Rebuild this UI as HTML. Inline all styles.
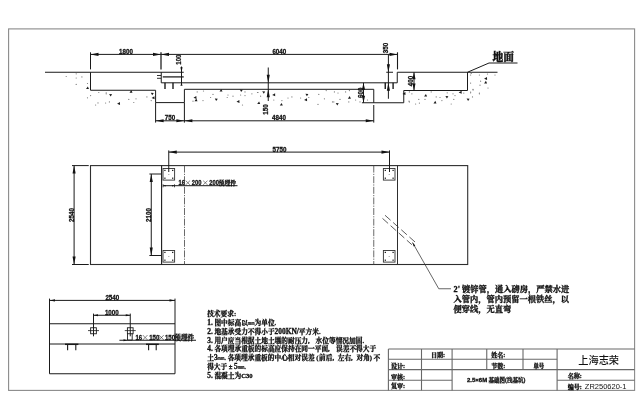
<!DOCTYPE html>
<html lang="zh"><head><meta charset="utf-8"><title>2.5×6M 基础图(浅基坑)</title>
<style>
html,body{margin:0;padding:0;background:#fff;}
body{width:640px;height:401px;overflow:hidden;}
svg{display:block;filter:grayscale(1);}
text{fill:#111;}
.n{font-family:"Liberation Sans","Noto Sans CJK SC",sans-serif;font-weight:700;stroke:#111;stroke-width:0.3px;}
.c{font-family:"Liberation Serif","Noto Serif CJK SC",serif;font-weight:700;stroke:#111;stroke-width:0.32px;}
.lt{font-size:7.4px;}
.mm{font-family:"Liberation Mono",monospace;font-size:5.6px;stroke-width:0.15px;}
.x{font-family:"Noto Sans CJK SC",sans-serif;font-weight:300;}
.h{font-family:"Liberation Sans","Noto Sans CJK SC",sans-serif;font-weight:500;}
.m{font-family:"Liberation Sans","Noto Sans CJK SC",sans-serif;font-weight:400;}
.n2{font-family:"Liberation Sans","Noto Sans CJK SC",sans-serif;font-size:6.0px;}
.t{stroke-width:0.32px;}
</style></head><body>
<svg width="640" height="401" viewBox="0 0 640 401">
<rect width="640" height="401" fill="#fff"/>
<rect x="8.6" y="28.9" width="626.0" height="361.5" fill="none" stroke="#8a8a8a" stroke-width="1.1"/>
<line x1="45" y1="72.25" x2="183.75" y2="72.25" stroke="#1a1a1a" stroke-width="1.0" />
<polyline points="90.5,72.25 90.5,90.25 155.6,90.25 155.6,102.6 184.4,102.6 184.4,89.3 373.75,89.3 373.75,102.75" fill="none" stroke="#1a1a1a" stroke-width="1.0" />
<polyline points="361.9,102.75 403.75,102.75 403.75,90.5 467.5,90.5 467.5,72.25" fill="none" stroke="#1a1a1a" stroke-width="1.0" />
<line x1="397.25" y1="72.25" x2="497.5" y2="72.25" stroke="#1a1a1a" stroke-width="1.0" />
<polyline points="161.25,72.25 161.25,82.8 397.25,82.8 397.25,72.25" fill="none" stroke="#1a1a1a" stroke-width="1.0" />
<line x1="162.75" y1="76.9" x2="183.75" y2="76.9" stroke="#1a1a1a" stroke-width="1.25" />
<line x1="157" y1="75.5" x2="161" y2="75.5" stroke="#1a1a1a" stroke-width="0.9" />
<line x1="157" y1="78.3" x2="161" y2="78.3" stroke="#1a1a1a" stroke-width="0.9" />
<line x1="165" y1="82.8" x2="165" y2="89" stroke="#1a1a1a" stroke-width="1.4" />
<line x1="173" y1="82.8" x2="173" y2="89" stroke="#1a1a1a" stroke-width="1.4" />
<line x1="385.25" y1="82.8" x2="385.25" y2="89" stroke="#1a1a1a" stroke-width="1.4" />
<line x1="393.1" y1="82.8" x2="393.1" y2="89" stroke="#1a1a1a" stroke-width="1.4" />
<line x1="90.5" y1="54.4" x2="397.5" y2="54.4" stroke="#1a1a1a" stroke-width="1.0" />
<line x1="90.5" y1="52.3" x2="90.5" y2="69.4" stroke="#1a1a1a" stroke-width="1.0" />
<line x1="161" y1="52.3" x2="161" y2="69.4" stroke="#1a1a1a" stroke-width="1.25" />
<line x1="397.5" y1="52.3" x2="397.5" y2="69.4" stroke="#1a1a1a" stroke-width="1.1" />
<polygon points="90.5,54.4 98.50,55.95 98.50,52.85" fill="#111"/>
<polygon points="161,54.4 153.00,52.85 153.00,55.95" fill="#111"/>
<polygon points="161,54.4 169.00,55.95 169.00,52.85" fill="#111"/>
<polygon points="397.5,54.4 389.50,52.85 389.50,55.95" fill="#111"/>
<text transform="translate(126 54.4) scale(0.83 1)" font-size="7.5" text-anchor="middle" class="n" >1800</text>
<text transform="translate(279.3 54.4) scale(0.83 1)" font-size="7.5" text-anchor="middle" class="n" >6040</text>
<line x1="181.5" y1="66.5" x2="181.5" y2="84.6" stroke="#1a1a1a" stroke-width="1.0" />
<polygon points="181.5,72.25 182.60,67.25 180.40,67.25" fill="#111"/>
<polygon points="181.5,82.8 180.40,85.80 182.60,85.80" fill="#111"/>
<text transform="translate(181.0 59.7) rotate(-90) scale(0.83 1)" font-size="7.2" text-anchor="middle" class="n" >100</text>
<line x1="268.25" y1="67.5" x2="268.25" y2="101" stroke="#1a1a1a" stroke-width="1.0" />
<polygon points="268.25,82.8 269.80,74.80 266.70,74.80" fill="#111"/>
<polygon points="268.25,89.3 266.70,97.30 269.80,97.30" fill="#111"/>
<text transform="translate(268.0 109.5) rotate(-90) scale(0.83 1)" font-size="7.5" text-anchor="middle" class="n" >150</text>
<line x1="388.4" y1="54.4" x2="388.4" y2="98.75" stroke="#1a1a1a" stroke-width="1.0" />
<line x1="386.25" y1="72.25" x2="393" y2="72.25" stroke="#1a1a1a" stroke-width="1.0" />
<polygon points="388.4,72.25 389.95,64.25 386.85,64.25" fill="#111"/>
<polygon points="388.4,82.8 386.85,90.80 389.95,90.80" fill="#111"/>
<text transform="translate(388.2 48) rotate(-90) scale(0.83 1)" font-size="7.5" text-anchor="middle" class="n" >350</text>
<line x1="363.5" y1="82.8" x2="363.5" y2="102.75" stroke="#1a1a1a" stroke-width="1.0" />
<polygon points="363.5,82.8 361.95,89.80 365.05,89.80" fill="#111"/>
<polygon points="363.5,102.75 365.05,95.75 361.95,95.75" fill="#111"/>
<text transform="translate(362.5 92.7) rotate(-90) scale(0.83 1)" font-size="7.5" text-anchor="middle" class="n" >600</text>
<line x1="414" y1="72.25" x2="414" y2="90.5" stroke="#1a1a1a" stroke-width="1.0" />
<polygon points="414,72.25 412.45,79.25 415.55,79.25" fill="#111"/>
<polygon points="414,90.5 415.55,83.50 412.45,83.50" fill="#111"/>
<text transform="translate(413.0 81) rotate(-90) scale(0.83 1)" font-size="7.5" text-anchor="middle" class="n" >400</text>
<line x1="155.6" y1="120.8" x2="373.75" y2="120.8" stroke="#1a1a1a" stroke-width="1.0" />
<line x1="155.6" y1="102.6" x2="155.6" y2="122.6" stroke="#1a1a1a" stroke-width="1.0" />
<line x1="184.4" y1="102.6" x2="184.4" y2="122.6" stroke="#1a1a1a" stroke-width="1.0" />
<line x1="373.75" y1="105" x2="373.75" y2="122.6" stroke="#1a1a1a" stroke-width="1.0" />
<polygon points="155.6,120.8 163.60,122.35 163.60,119.25" fill="#111"/>
<polygon points="184.4,120.8 176.40,119.25 176.40,122.35" fill="#111"/>
<polygon points="184.4,120.8 192.40,122.35 192.40,119.25" fill="#111"/>
<polygon points="373.75,120.8 365.75,119.25 365.75,122.35" fill="#111"/>
<text transform="translate(170 120.4) scale(0.83 1)" font-size="7.5" text-anchor="middle" class="n" >750</text>
<text transform="translate(279 120.4) scale(0.83 1)" font-size="7.5" text-anchor="middle" class="n" >4840</text>
<polyline points="467.5,72.25 489,63 517.5,63" fill="none" stroke="#1a1a1a" stroke-width="1.0" />
<text x="492.4" y="61.4" font-size="10.8" text-anchor="start" class="c" style="stroke-width:0.45px">地面</text>
<rect x="90.5" y="165.6" width="377.2" height="98.90" fill="none" stroke="#2e2e2e" stroke-width="1.1"/>
<line x1="72" y1="165.6" x2="88.75" y2="165.6" stroke="#1a1a1a" stroke-width="1.0" />
<line x1="72" y1="264.5" x2="88.75" y2="264.5" stroke="#1a1a1a" stroke-width="1.0" />
<line x1="161.6" y1="165.6" x2="161.6" y2="264.5" stroke="#1a1a1a" stroke-width="1.1" />
<line x1="397.5" y1="165.6" x2="397.5" y2="264.5" stroke="#2e2e2e" stroke-width="1.0" />
<line x1="184.5" y1="165.6" x2="184.5" y2="264.5" stroke="#444" stroke-width="0.8" stroke-dasharray="7 1.2 1.2 1.2"/>
<line x1="373.75" y1="165.6" x2="373.75" y2="264.5" stroke="#444" stroke-width="0.8" stroke-dasharray="7 1.2 1.2 1.2"/>
<rect x="163.0" y="168.5" width="11.6" height="11.6" fill="none" stroke="#3a3a3a" stroke-width="0.95"/>
<rect x="164.28" y="169.78" width="1.25" height="1.25" fill="#111"/>
<rect x="172.08" y="169.78" width="1.25" height="1.25" fill="#111"/>
<rect x="164.28" y="177.58" width="1.25" height="1.25" fill="#111"/>
<rect x="172.08" y="177.58" width="1.25" height="1.25" fill="#111"/>
<rect x="168.30" y="174.00" width="1" height="0.6" fill="#555"/>
<rect x="163.0" y="250.5" width="11.6" height="11.6" fill="none" stroke="#3a3a3a" stroke-width="0.95"/>
<rect x="164.28" y="251.78" width="1.25" height="1.25" fill="#111"/>
<rect x="172.08" y="251.78" width="1.25" height="1.25" fill="#111"/>
<rect x="164.28" y="259.58" width="1.25" height="1.25" fill="#111"/>
<rect x="172.08" y="259.58" width="1.25" height="1.25" fill="#111"/>
<rect x="168.30" y="256.00" width="1" height="0.6" fill="#555"/>
<rect x="383.4" y="168.5" width="11.6" height="11.6" fill="none" stroke="#3a3a3a" stroke-width="0.95"/>
<rect x="384.68" y="169.78" width="1.25" height="1.25" fill="#111"/>
<rect x="392.48" y="169.78" width="1.25" height="1.25" fill="#111"/>
<rect x="384.68" y="177.58" width="1.25" height="1.25" fill="#111"/>
<rect x="392.48" y="177.58" width="1.25" height="1.25" fill="#111"/>
<rect x="388.70" y="174.00" width="1" height="0.6" fill="#555"/>
<rect x="383.4" y="250.5" width="11.6" height="11.6" fill="none" stroke="#3a3a3a" stroke-width="0.95"/>
<rect x="384.68" y="251.78" width="1.25" height="1.25" fill="#111"/>
<rect x="392.48" y="251.78" width="1.25" height="1.25" fill="#111"/>
<rect x="384.68" y="259.58" width="1.25" height="1.25" fill="#111"/>
<rect x="392.48" y="259.58" width="1.25" height="1.25" fill="#111"/>
<rect x="388.70" y="256.00" width="1" height="0.6" fill="#555"/>
<line x1="168.75" y1="152.1" x2="389.5" y2="152.1" stroke="#1a1a1a" stroke-width="1.0" />
<line x1="168.75" y1="150.4" x2="168.75" y2="172" stroke="#1a1a1a" stroke-width="1.0" />
<line x1="389.5" y1="150.4" x2="389.5" y2="172" stroke="#1a1a1a" stroke-width="1.0" />
<polygon points="168.75,152.1 176.75,153.65 176.75,150.55" fill="#111"/>
<polygon points="389.5,152.1 381.50,150.55 381.50,153.65" fill="#111"/>
<text transform="translate(279.5 151.9) scale(0.83 1)" font-size="7.5" text-anchor="middle" class="n" >5750</text>
<line x1="74.1" y1="165.6" x2="74.1" y2="264.5" stroke="#1a1a1a" stroke-width="1.0" />
<polygon points="74.1,165.6 72.55,173.60 75.65,173.60" fill="#111"/>
<polygon points="74.1,264.5 75.65,256.50 72.55,256.50" fill="#111"/>
<text transform="translate(73.6 215) rotate(-90) scale(0.83 1)" font-size="7.5" text-anchor="middle" class="n" >2540</text>
<line x1="151.25" y1="174" x2="151.25" y2="255.5" stroke="#1a1a1a" stroke-width="1.0" />
<line x1="149.4" y1="174" x2="161" y2="174" stroke="#1a1a1a" stroke-width="1.0" />
<line x1="149.4" y1="255.5" x2="161" y2="255.5" stroke="#1a1a1a" stroke-width="1.0" />
<polygon points="151.25,174 149.70,182.00 152.80,182.00" fill="#111"/>
<polygon points="151.25,255.5 152.80,247.50 149.70,247.50" fill="#111"/>
<text transform="translate(150.7 215) rotate(-90) scale(0.83 1)" font-size="7.5" text-anchor="middle" class="n" >2100</text>
<line x1="163.1" y1="185.7" x2="237.5" y2="185.7" stroke="#1a1a1a" stroke-width="1.0" />
<line x1="163.1" y1="184.3" x2="163.1" y2="187.3" stroke="#1a1a1a" stroke-width="0.8" />
<line x1="174.5" y1="184.3" x2="174.5" y2="187.3" stroke="#1a1a1a" stroke-width="0.8" />
<polygon points="163.1,185.7 165.60,186.40 165.60,185.00" fill="#111"/>
<polygon points="174.5,185.7 172.00,185.00 172.00,186.40" fill="#111"/>
<text transform="translate(178.6 184.6) scale(0.83 1)" font-size="7.0" text-anchor="start" class="n" >16</text>
<text x="184.2" y="184.79999999999998" font-size="7.2" class="x">×</text>
<text transform="translate(191.7 184.6) scale(0.83 1)" font-size="7.0" text-anchor="start" class="n" >200</text>
<text x="201.7" y="184.79999999999998" font-size="7.2" class="x">×</text>
<text transform="translate(209.2 184.6) scale(0.83 1)" font-size="7.0" text-anchor="start" class="n" >200</text>
<text x="218.6" y="184.6" font-size="5.9" class="c">预埋件</text>
<line x1="385" y1="215.25" x2="415.6" y2="242.5" stroke="#333" stroke-width="0.8" stroke-dasharray="7.5 3.4"/>
<line x1="382.5" y1="218.4" x2="411.9" y2="244.75" stroke="#333" stroke-width="0.8" stroke-dasharray="7.5 3.4"/>
<polyline points="412.5,242.5 438.75,288.75 451,288.75" fill="none" stroke="#333" stroke-width="0.75" />
<polygon points="412.5,242.5 413.69,246.42 415.26,245.54" fill="#111"/>
<text x="453.6" y="291.7" font-size="8.25" text-anchor="start" class="c" >2' 镀锌管，通入磅房，严禁水进</text>
<text x="453.6" y="302.05" font-size="8.25" text-anchor="start" class="c" >入管内，管内预留一根铁丝，以</text>
<text x="453.6" y="312.4" font-size="8.25" text-anchor="start" class="c" >便穿线，无直弯</text>
<line x1="49.5" y1="300.4" x2="175" y2="300.4" stroke="#1a1a1a" stroke-width="1.0" />
<line x1="49.5" y1="298.6" x2="49.5" y2="373.75" stroke="#1a1a1a" stroke-width="1.0" />
<line x1="175" y1="298.6" x2="175" y2="373.75" stroke="#1a1a1a" stroke-width="1.0" />
<line x1="49.5" y1="373.75" x2="175" y2="373.75" stroke="#1a1a1a" stroke-width="1.0" />
<line x1="49.5" y1="323.75" x2="175" y2="323.75" stroke="#1a1a1a" stroke-width="1.0" />
<line x1="49.5" y1="344" x2="175" y2="344" stroke="#1a1a1a" stroke-width="1.0" />
<polygon points="49.5,300.4 55.00,301.50 55.00,299.30" fill="#111"/>
<polygon points="175,300.4 169.50,299.30 169.50,301.50" fill="#111"/>
<text transform="translate(112.3 299.9) scale(0.83 1)" font-size="7.5" text-anchor="middle" class="n" >2540</text>
<line x1="93.5" y1="315.25" x2="130.25" y2="315.25" stroke="#1a1a1a" stroke-width="1.0" />
<line x1="93.5" y1="313.6" x2="93.5" y2="336.3" stroke="#1a1a1a" stroke-width="1.0" />
<line x1="130.25" y1="313.6" x2="130.25" y2="336.3" stroke="#1a1a1a" stroke-width="1.0" />
<polygon points="93.5,315.25 98.00,316.25 98.00,314.25" fill="#111"/>
<polygon points="130.25,315.25 125.75,314.25 125.75,316.25" fill="#111"/>
<text transform="translate(111.8 314.8) scale(0.83 1)" font-size="7.5" text-anchor="middle" class="n" >1000</text>
<rect x="90.65" y="327.75" width="5.7" height="6" fill="none" stroke="#1a1a1a" stroke-width="0.9"/>
<line x1="88.0" y1="330.6" x2="99.0" y2="330.6" stroke="#1a1a1a" stroke-width="0.8" />
<rect x="127.4" y="327.75" width="5.7" height="6" fill="none" stroke="#1a1a1a" stroke-width="0.9"/>
<line x1="124.75" y1="330.6" x2="135.75" y2="330.6" stroke="#1a1a1a" stroke-width="0.8" />
<polyline points="127.5,333.75 127.5,340.1 132.2,340.1 132.2,333.75" fill="none" stroke="#1a1a1a" stroke-width="0.9" />
<line x1="119.4" y1="340.25" x2="196" y2="340.25" stroke="#1a1a1a" stroke-width="1.0" />
<polygon points="127.5,340.25 123.50,339.35 123.50,341.15" fill="#111"/>
<text transform="translate(135.4 340.0) scale(0.83 1)" font-size="7.4" text-anchor="start" class="n" >16</text>
<text x="141.3" y="340.2" font-size="7.8" class="x">×</text>
<text transform="translate(149.2 340.0) scale(0.83 1)" font-size="7.4" text-anchor="start" class="n" >150</text>
<text x="157.6" y="340.2" font-size="7.8" class="x">×</text>
<text transform="translate(164.9 340.0) scale(0.83 1)" font-size="7.4" text-anchor="start" class="n" >150</text>
<text x="174.3" y="340.0" font-size="6.6" class="c">预埋件</text>
<line x1="65.0" y1="344.3" x2="78.39999999999999" y2="344.3" stroke="#1a1a1a" stroke-width="1.5" />
<line x1="67.6" y1="344" x2="67.6" y2="350.2" stroke="#1a1a1a" stroke-width="1.1" />
<line x1="75.8" y1="344" x2="75.8" y2="350.2" stroke="#1a1a1a" stroke-width="1.1" />
<line x1="146.0" y1="344.3" x2="158.79999999999998" y2="344.3" stroke="#1a1a1a" stroke-width="1.5" />
<line x1="148.6" y1="344" x2="148.6" y2="350.2" stroke="#1a1a1a" stroke-width="1.1" />
<line x1="156.2" y1="344" x2="156.2" y2="350.2" stroke="#1a1a1a" stroke-width="1.1" />
<text x="207.2" y="315.85" font-size="6.7" text-anchor="start" class="c" >技术要求:</text>
<text x="207.2" y="324.75" font-size="6.7" text-anchor="start" class="c" ><tspan class='lt'>1.</tspan> 图中标高以<tspan class='mm'>mm</tspan>为单位.</text>
<text x="207.2" y="333.65000000000003" font-size="6.7" text-anchor="start" class="c" ><tspan class='lt'>2.</tspan> 地基承受力不得小于<tspan class='lt'>200KN/</tspan>平方米.</text>
<text x="207.2" y="342.55" font-size="6.7" text-anchor="start" class="c" ><tspan class='lt'>3.</tspan> 用户应当根据土地土壤的耐压力,<tspan dx='4.2'> </tspan>水位等情况加固.</text>
<text x="207.2" y="351.45000000000005" font-size="6.7" text-anchor="start" class="c" ><tspan class='lt'>4.</tspan> 各项埋承重板的标高应保持在同一平面,<tspan dx='4.6'> </tspan>误差不得大于</text>
<text x="207.2" y="360.35" font-size="6.7" text-anchor="start" class="c" >土<tspan class='lt'>3</tspan><tspan class='mm'>mm</tspan>. 各项埋承重板的中心相对误差<tspan dx='1.6'>(</tspan><tspan dx='0.6'>前</tspan>后,<tspan dx='2'> </tspan>左右,<tspan dx='2'> </tspan>对角)<tspan dx='1.5'>不</tspan></text>
<text x="207.2" y="369.25" font-size="6.7" text-anchor="start" class="c" >得大于<tspan dx='1.4'>±</tspan><tspan dx='1.6' class='lt'>5</tspan><tspan class='mm'>mm</tspan>.</text>
<text x="207.2" y="378.15000000000003" font-size="6.7" text-anchor="start" class="c" ><tspan class='lt'>5.</tspan> 混凝土为<tspan font-size='6.6'>C30</tspan></text>
<line x1="388.4" y1="349" x2="634.6" y2="349" stroke="#686868" stroke-width="1.1" />
<line x1="388.4" y1="349" x2="388.4" y2="390.4" stroke="#686868" stroke-width="1.1" />
<line x1="388.4" y1="359.25" x2="557.1" y2="359.25" stroke="#686868" stroke-width="1.1" />
<line x1="388.4" y1="369.6" x2="634.6" y2="369.6" stroke="#686868" stroke-width="1.1" />
<line x1="388.4" y1="380.3" x2="452.1" y2="380.3" stroke="#686868" stroke-width="1.1" />
<line x1="557.1" y1="380.3" x2="634.6" y2="380.3" stroke="#686868" stroke-width="1.1" />
<line x1="421.5" y1="349" x2="421.5" y2="390.4" stroke="#686868" stroke-width="1.1" />
<line x1="452.1" y1="349" x2="452.1" y2="390.4" stroke="#686868" stroke-width="1.1" />
<line x1="486.75" y1="349" x2="486.75" y2="369.6" stroke="#686868" stroke-width="1.1" />
<line x1="523" y1="349" x2="523" y2="369.6" stroke="#686868" stroke-width="1.1" />
<line x1="557.1" y1="349" x2="557.1" y2="390.4" stroke="#686868" stroke-width="1.1" />
<text x="430.9" y="357.4" font-size="6.1" text-anchor="start" class="c t" >日期:</text>
<text x="390.9" y="368.0" font-size="6.1" text-anchor="start" class="c t" >设计:</text>
<text x="390.9" y="378.7" font-size="6.1" text-anchor="start" class="c t" >审核:</text>
<text x="390.9" y="388.3" font-size="6.1" text-anchor="start" class="c t" >复审:</text>
<text x="491.2" y="357.4" font-size="6.1" text-anchor="start" class="c t" >姓名:</text>
<text x="491.2" y="367.6" font-size="6.1" text-anchor="start" class="c t" >节数:</text>
<text x="533.4" y="367.6" font-size="5.4" text-anchor="start" class="c t" >单号</text>
<text x="467" y="381.7" font-size="5.5" text-anchor="start" class="c t" ><tspan class='n2'>2.5×6M</tspan> 基础图(浅基坑)</text>
<text x="598.7" y="364.3" font-size="10.2" text-anchor="middle" class="h" >上海志荣</text>
<text x="567.7" y="377.6" font-size="6.1" text-anchor="start" class="c t" >名称:</text>
<text x="567.7" y="388.6" font-size="6.1" text-anchor="start" class="c t" >编号:</text>
<text x="584.8" y="388.9" font-size="7.5" text-anchor="start" class="m" >ZR250620-1</text>
<polygon points="86.0,89.1 89.0,89.1 87.8,86.4" fill="#1c1c1c"/>
<polygon points="109.1,94.0 112.1,94.2 110.6,96.5" fill="#1c1c1c"/>
<polygon points="117.1,103.8 119.9,102.0 120.1,105.0" fill="#1c1c1c"/>
<polygon points="129.5,92.7 132.5,92.7 131.3,90.0" fill="#1c1c1c"/>
<polygon points="150.8,92.7 153.8,93.0 152.2,95.2" fill="#1c1c1c"/>
<polygon points="151.6,98.0 154.4,96.2 154.6,99.2" fill="#1c1c1c"/>
<polygon points="219.5,91.6 222.5,91.6 221.3,88.9" fill="#1c1c1c"/>
<polygon points="239.8,89.4 242.8,89.7 241.2,91.9" fill="#1c1c1c"/>
<polygon points="193.5,97.8 196.3,96.0 196.5,99.0" fill="#1c1c1c"/>
<polygon points="194.5,101.2 197.5,101.2 196.3,98.5" fill="#1c1c1c"/>
<polygon points="214.8,98.4 217.8,98.7 216.2,100.9" fill="#1c1c1c"/>
<polygon points="236.5,101.8 239.3,100.0 239.5,103.0" fill="#1c1c1c"/>
<polygon points="257.2,104.1 260.2,104.1 259.1,101.4" fill="#1c1c1c"/>
<polygon points="262.2,91.2 265.2,91.5 263.8,93.8" fill="#1c1c1c"/>
<polygon points="272.2,95.0 275.1,93.2 275.2,96.2" fill="#1c1c1c"/>
<polygon points="279.8,105.6 282.8,105.6 281.6,102.9" fill="#1c1c1c"/>
<polygon points="305.4,93.7 308.4,94.0 306.9,96.2" fill="#1c1c1c"/>
<polygon points="304.1,100.0 307.0,98.2 307.1,101.2" fill="#1c1c1c"/>
<polygon points="347.9,98.7 350.9,98.7 349.7,96.0" fill="#1c1c1c"/>
<polygon points="335.8,103.0 338.8,103.2 337.2,105.5" fill="#1c1c1c"/>
<polygon points="402.5,93.9 405.4,92.1 405.5,95.1" fill="#1c1c1c"/>
<polygon points="424.1,96.6 427.1,96.6 425.9,93.9" fill="#1c1c1c"/>
<polygon points="445.4,96.0 448.4,96.3 446.9,98.6" fill="#1c1c1c"/>
<polygon points="458.7,92.5 461.6,90.7 461.7,93.7" fill="#1c1c1c"/>
<polygon points="433.5,103.5 436.5,103.5 435.3,100.8" fill="#1c1c1c"/>
<polygon points="466.6,98.4 469.6,98.7 468.1,100.9" fill="#1c1c1c"/>
<polygon points="484.1,78.8 487.0,77.0 487.1,80.0" fill="#1c1c1c"/>
<polygon points="484.1,83.5 487.1,83.5 485.9,80.8" fill="#1c1c1c"/>
<circle cx="87.5" cy="97.8" r="0.6" fill="#777"/>
<circle cx="81.9" cy="76.9" r="0.6" fill="#777"/>
<circle cx="76.2" cy="73.8" r="0.6" fill="#777"/>
<circle cx="66.2" cy="76.5" r="0.6" fill="#777"/>
<circle cx="76.2" cy="84.4" r="0.6" fill="#777"/>
<circle cx="76.2" cy="78.0" r="0.6" fill="#777"/>
<circle cx="87.5" cy="83.5" r="0.6" fill="#777"/>
<circle cx="90.6" cy="95.6" r="0.6" fill="#777"/>
<circle cx="98.8" cy="92.5" r="0.6" fill="#777"/>
<circle cx="106.2" cy="92.8" r="0.6" fill="#777"/>
<circle cx="95.6" cy="105.0" r="0.6" fill="#777"/>
<circle cx="98.0" cy="102.9" r="0.6" fill="#777"/>
<circle cx="105.6" cy="103.0" r="0.6" fill="#777"/>
<circle cx="109.4" cy="101.9" r="0.6" fill="#777"/>
<circle cx="106.2" cy="93.8" r="0.6" fill="#777"/>
<circle cx="128.8" cy="99.4" r="0.6" fill="#777"/>
<circle cx="136.0" cy="98.8" r="0.6" fill="#777"/>
<circle cx="133.8" cy="102.5" r="0.6" fill="#777"/>
<circle cx="146.9" cy="96.9" r="0.6" fill="#777"/>
<circle cx="151.2" cy="100.6" r="0.6" fill="#777"/>
<circle cx="197.2" cy="91.9" r="0.6" fill="#777"/>
<circle cx="203.5" cy="91.0" r="0.6" fill="#777"/>
<circle cx="213.0" cy="94.4" r="0.6" fill="#777"/>
<circle cx="210.6" cy="97.5" r="0.6" fill="#777"/>
<circle cx="203.0" cy="100.6" r="0.6" fill="#777"/>
<circle cx="228.0" cy="95.0" r="0.6" fill="#777"/>
<circle cx="227.2" cy="97.5" r="0.6" fill="#777"/>
<circle cx="233.0" cy="96.2" r="0.6" fill="#777"/>
<circle cx="240.6" cy="95.0" r="0.6" fill="#777"/>
<circle cx="245.0" cy="91.9" r="0.6" fill="#777"/>
<circle cx="245.0" cy="95.6" r="0.6" fill="#777"/>
<circle cx="251.9" cy="93.8" r="0.6" fill="#777"/>
<circle cx="258.0" cy="92.5" r="0.6" fill="#777"/>
<circle cx="242.5" cy="105.0" r="0.6" fill="#777"/>
<circle cx="193.0" cy="101.2" r="0.6" fill="#777"/>
<circle cx="257.5" cy="92.5" r="0.6" fill="#777"/>
<circle cx="260.6" cy="96.2" r="0.6" fill="#777"/>
<circle cx="273.8" cy="100.0" r="0.6" fill="#777"/>
<circle cx="281.9" cy="100.6" r="0.6" fill="#777"/>
<circle cx="288.0" cy="98.0" r="0.6" fill="#777"/>
<circle cx="291.9" cy="96.9" r="0.6" fill="#777"/>
<circle cx="300.6" cy="98.0" r="0.6" fill="#777"/>
<circle cx="308.8" cy="97.5" r="0.6" fill="#777"/>
<circle cx="318.8" cy="94.4" r="0.6" fill="#777"/>
<circle cx="318.0" cy="104.4" r="0.6" fill="#777"/>
<circle cx="324.4" cy="98.8" r="0.6" fill="#777"/>
<circle cx="326.2" cy="90.6" r="0.6" fill="#777"/>
<circle cx="333.8" cy="101.9" r="0.6" fill="#777"/>
<circle cx="334.4" cy="91.9" r="0.6" fill="#777"/>
<circle cx="338.0" cy="93.0" r="0.6" fill="#777"/>
<circle cx="345.6" cy="91.9" r="0.6" fill="#777"/>
<circle cx="349.4" cy="90.6" r="0.6" fill="#777"/>
<circle cx="332.5" cy="101.9" r="0.6" fill="#777"/>
<circle cx="348.8" cy="101.9" r="0.6" fill="#777"/>
<circle cx="355.6" cy="100.0" r="0.6" fill="#777"/>
<circle cx="360.0" cy="101.9" r="0.6" fill="#777"/>
<circle cx="367.5" cy="100.0" r="0.6" fill="#777"/>
<circle cx="340.0" cy="99.4" r="0.6" fill="#777"/>
<circle cx="409.0" cy="101.2" r="0.6" fill="#777"/>
<circle cx="409.4" cy="91.9" r="0.6" fill="#777"/>
<circle cx="411.9" cy="93.8" r="0.6" fill="#777"/>
<circle cx="409.4" cy="101.9" r="0.6" fill="#777"/>
<circle cx="418.8" cy="99.4" r="0.6" fill="#777"/>
<circle cx="415.6" cy="104.0" r="0.6" fill="#777"/>
<circle cx="419.4" cy="103.1" r="0.6" fill="#777"/>
<circle cx="425.0" cy="99.4" r="0.6" fill="#777"/>
<circle cx="431.2" cy="91.9" r="0.6" fill="#777"/>
<circle cx="436.2" cy="96.9" r="0.6" fill="#777"/>
<circle cx="440.0" cy="97.5" r="0.6" fill="#777"/>
<circle cx="441.9" cy="100.6" r="0.6" fill="#777"/>
<circle cx="447.2" cy="92.8" r="0.6" fill="#777"/>
<circle cx="451.2" cy="104.0" r="0.6" fill="#777"/>
<circle cx="453.8" cy="99.4" r="0.6" fill="#777"/>
<circle cx="455.0" cy="95.6" r="0.6" fill="#777"/>
<circle cx="453.0" cy="93.8" r="0.6" fill="#777"/>
<circle cx="463.8" cy="93.1" r="0.6" fill="#777"/>
<circle cx="471.2" cy="73.4" r="0.6" fill="#777"/>
<circle cx="470.6" cy="83.1" r="0.6" fill="#777"/>
<circle cx="473.1" cy="90.0" r="0.6" fill="#777"/>
<circle cx="470.6" cy="92.8" r="0.6" fill="#777"/>
<circle cx="472.5" cy="96.9" r="0.6" fill="#777"/>
<circle cx="479.4" cy="93.8" r="0.6" fill="#777"/>
<circle cx="470.6" cy="75.0" r="0.6" fill="#777"/>
<circle cx="479.4" cy="75.0" r="0.6" fill="#777"/>
<circle cx="487.5" cy="74.0" r="0.6" fill="#777"/>
<circle cx="495.0" cy="75.0" r="0.6" fill="#777"/>
<circle cx="480.6" cy="81.2" r="0.6" fill="#777"/>
<circle cx="480.0" cy="85.2" r="0.6" fill="#777"/>
<circle cx="488.0" cy="88.0" r="0.6" fill="#777"/>
<circle cx="473.0" cy="89.4" r="0.6" fill="#777"/>
<circle cx="470.6" cy="92.0" r="0.6" fill="#777"/>
<circle cx="479.4" cy="93.0" r="0.6" fill="#777"/>
</svg>
</body></html>
